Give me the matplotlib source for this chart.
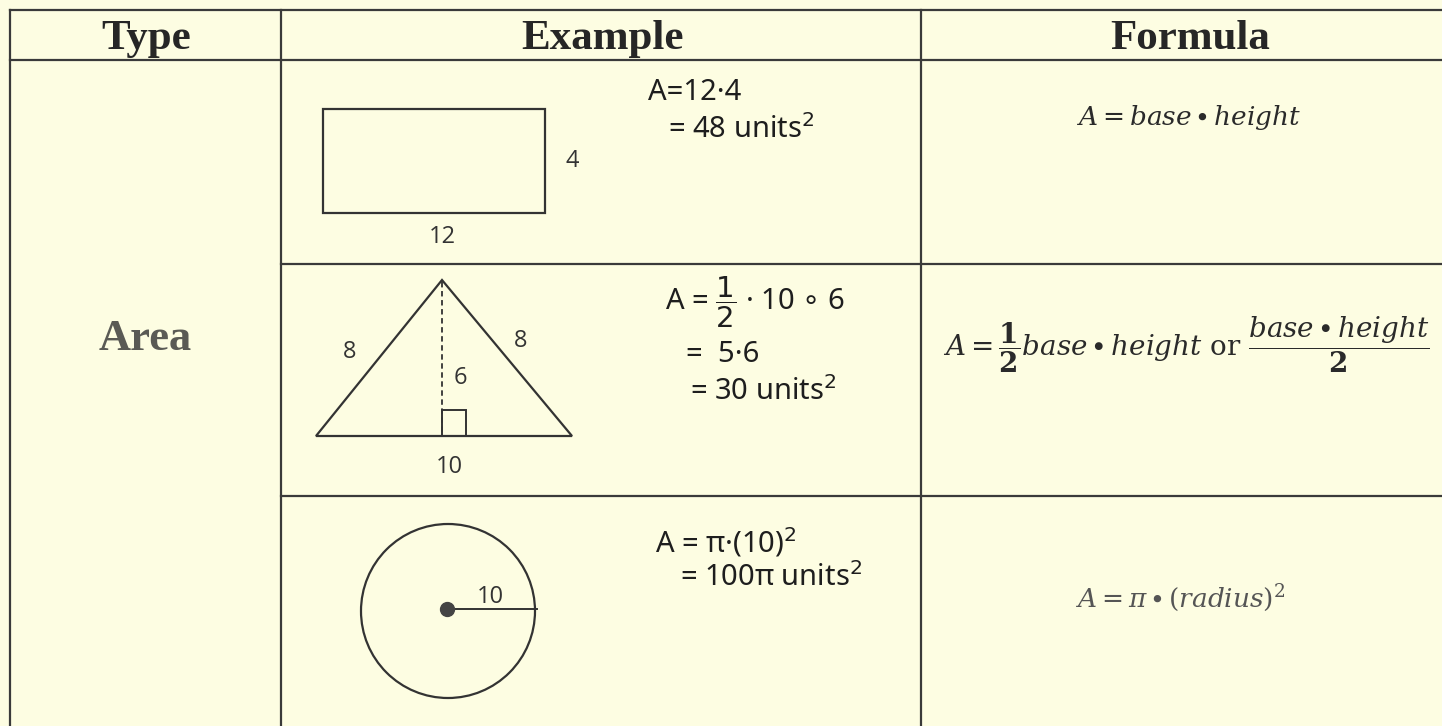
import matplotlib.pyplot as plt
from matplotlib.patches import Rectangle, Polygon, Circle

plt.rcParams["mathtext.fontset"] = "dejavuserif"

# table text
headers = ["Type", "Example", "Formula"]
row_type = "Area"

# shape dimensions shown in the examples
rect_dims = [12, 4]          # base, height
tri_dims = [10, 6, 8]        # base, height, slanted side
circle_radius = 10

work_rect = ["A=12·4", "= 48 units$^2$"]
work_tri = [r"A = $\dfrac{1}{2}$ · 10 $\circ$ 6", "=  5·6", "= 30 units$^2$"]
work_circle = ["A = π·(10)$^2$", "= 100π units$^2$"]

formulas = [
    r"$A = base \bullet height$",
    r"$A = \dfrac{\mathbf{1}}{\mathbf{2}}base \bullet height\ \mathrm{or}\ \dfrac{base \bullet height}{\mathbf{2}}$",
    r"$A = \pi \bullet (radius)^2$",
]

bg = "#fdfde2"
ink = "#3a3a3a"

fig = plt.figure(figsize=(14.42, 7.26), dpi=100)
fig.patch.set_facecolor(bg)
ax = fig.add_axes([0, 0, 1, 1])
ax.set_xlim(0, 1442)
ax.set_ylim(726, 0)
ax.axis("off")

# grid lines
lw = 1.6
ax.plot([10, 1442], [10, 10], color=ink, lw=lw)
ax.plot([10, 1442], [60, 60], color=ink, lw=lw)
for x in [10, 281, 921]:
    ax.plot([x, x], [10, 726], color=ink, lw=lw)
for y in [264, 496]:
    ax.plot([281, 1442], [y, y], color=ink, lw=lw)

# headers
for x, h in zip([146, 603, 1190], headers):
    ax.text(x, 39, h, ha="center", va="center", fontsize=31,
            fontweight="bold", family="Liberation Serif", color="#262626")
ax.text(145, 339, row_type, ha="center", va="center", fontsize=32,
        fontweight="bold", family="Liberation Serif", color="#5a5a55")

shape_col = "#333333"
lab = dict(fontsize=17, family="Open Sans", color="#333333",
           ha="center", va="center")

# rectangle
ax.add_patch(Rectangle((323, 109), 222, 104, fill=False, ec=shape_col, lw=1.6))
ax.text(572, 161, str(rect_dims[1]), **lab)
ax.text(442, 237, str(rect_dims[0]), **lab)

# triangle
ax.add_patch(Polygon([[316, 436], [572, 436], [442, 280]], closed=True,
                     fill=False, ec=shape_col, lw=1.6))
ax.plot([442, 442], [282, 436], color=shape_col, lw=1.3, ls=(0, (3, 2)))
ax.add_patch(Rectangle((442, 410), 24, 26, fill=False, ec=shape_col, lw=1.4))
ax.text(350, 352, str(tri_dims[2]), **lab)
ax.text(521, 341, str(tri_dims[2]), **lab)
ax.text(460, 378, str(tri_dims[1]), **lab)
ax.text(449, 467, str(tri_dims[0]), **lab)

# circle
ax.add_patch(Circle((448, 611), 87, fill=False, ec=shape_col, lw=1.6))
ax.plot([447, 537], [609, 609], color=shape_col, lw=1.4)
ax.plot([447], [609], "o", color="#444444", ms=10)
ax.text(490, 597, str(circle_radius), **lab)

# handwritten work
hw = dict(fontsize=21, family=["Noto Sans", "DejaVu Sans"], color="#1e1e1e",
          ha="left", va="center", math_fontfamily="dejavusans")
ax.text(648, 92, work_rect[0], **hw)
ax.text(668, 130, work_rect[1], **hw)
ax.text(665, 302, work_tri[0], **hw)
ax.text(686, 355, work_tri[1], **hw)
ax.text(690, 392, work_tri[2], **hw)
ax.text(655, 543, work_circle[0], **hw)
ax.text(680, 578, work_circle[1], **hw)

# formulas
fm = dict(fontsize=19, color="#2a2a2a", va="center")
ax.text(1189, 117, formulas[0], ha="center", **fm)
ax.text(943, 345, formulas[1], ha="left", fontsize=20, color="#2a2a2a", va="center")
ax.text(1180, 598, formulas[2], ha="center", fontsize=19, color="#555555", va="center")

fig.savefig("out.png", dpi=100, facecolor=bg)
